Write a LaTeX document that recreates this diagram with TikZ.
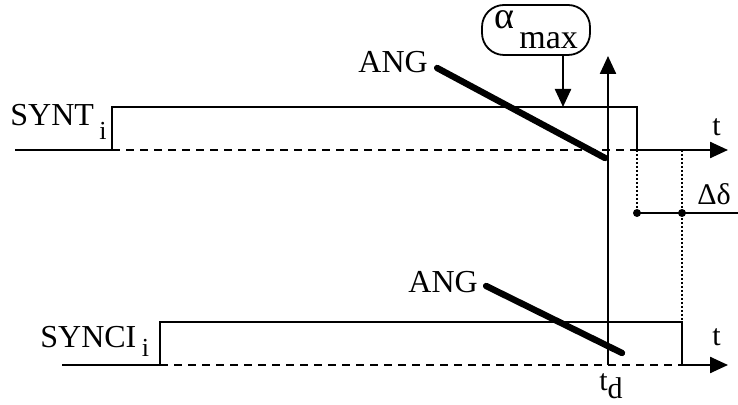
\documentclass[tikz,border=0pt]{standalone}
\usepackage{fontspec}
\setmainfont{Liberation Serif}
\usetikzlibrary{arrows.meta, positioning, calc}

\begin{document}
\begin{tikzpicture}[
        x=0.5pt, y=-0.5pt,
        font=\fontsize{16}{18}\selectfont,
        lbl/.style={inner sep=0pt, anchor=base west},
        small/.style={inner sep=0pt, anchor=base west, font=\fontsize{15}{17}\selectfont},
        sig/.style={line width=1.2pt},
        ref/.style={line width=1.2pt, dash pattern=on 4pt off 3pt},
        marker/.style={line width=1pt, densely dotted},
        angle/.style={line width=3.2pt, line cap=round},
        axis/.style={line width=1.2pt, -{Triangle[length=9pt, width=8pt]}},
        dot/.style={circle, fill, inner sep=0pt, minimum size=4pt}
    ]
        \useasboundingbox (0,0) rectangle (738,405);

        % top signal SYNT
        \coordinate (a0) at (15,150);
        \coordinate (a1) at (112,150);
        \coordinate (a2) at (112,107);
        \coordinate (a3) at (637,107);
        \coordinate (a4) at (637,150);
        \coordinate (a5) at (728,150);
        % bottom signal SYNCI
        \coordinate (b0) at (62,365);
        \coordinate (b1) at (160,365);
        \coordinate (b2) at (160,322);
        \coordinate (b3) at (682,322);
        \coordinate (b4) at (682,365);
        \coordinate (b5) at (728,365);
        % t_d axis
        \coordinate (d0) at (608,365);
        \coordinate (d1) at (608,56);

        \node[lbl] (synt) at (10,126) {SYNT\,\raisebox{-7pt}{\fontsize{13}{13}\selectfont i}};
        \node[lbl] (synci) at (40,348) {SYNCI\,\raisebox{-4.5pt}{\fontsize{13}{13}\selectfont i}};
        \node[lbl] (angtop) at (358,73) {ANG};
        \node[lbl] (angbot) at (408,293) {ANG};
        \node[small] (ttop) at (712,136) {t};
        \node[small] (tbot) at (712,346) {t};
        \node[small] (td) at (599,390) {t\raisebox{-4pt}{d}};
        \node[lbl, font=\fontsize{15}{17}\selectfont] (dd) at (697,205) {Δδ};
        \node[draw, line width=0.9pt, rounded corners=11pt, minimum width=54pt, minimum height=25pt,
              inner sep=0pt] (amax) at (536,30)
              {\raisebox{5pt}{\fontsize{19}{19}\selectfont α}\,\raisebox{-5pt}{\fontsize{17}{17}\selectfont max}};
        \coordinate (aend) at (563,107);

        % signals
        \draw [sig] (a0) -- (a1) -- (a2) -- (a3) -- (a4);
        \draw [ref] (a1) -- (a4);
        \draw [axis] (a4) -- (a5);
        \draw [sig] (b0) -- (b1) -- (b2) -- (b3) -- (b4);
        \draw [ref] (b1) -- (b4);
        \draw [axis] (b4) -- (b5);
        \draw [axis] (d0) -- (d1);

        % delta delta
        \coordinate (m0) at (637,213);
        \coordinate (m1) at (682,213);
        \coordinate (m2) at (738,213);
        \draw [marker] (a4) -- (m0);
        \draw [marker] (a4 -| b3) -- (b3);
        \draw [line width=1pt] (m0) -- (m2);
        \node[dot] (p0) at (m0) {};
        \node[dot] (p1) at (m1) {};

        % angles
        \draw [angle] ($(angtop.base east)+(9,-5)$) -- (605,158);
        \draw [angle] ($(angbot.base east)+(8,-7)$) -- (622,353);
        \draw [axis] (aend |- amax.south) -- (aend);
    \end{tikzpicture}
\end{document}
